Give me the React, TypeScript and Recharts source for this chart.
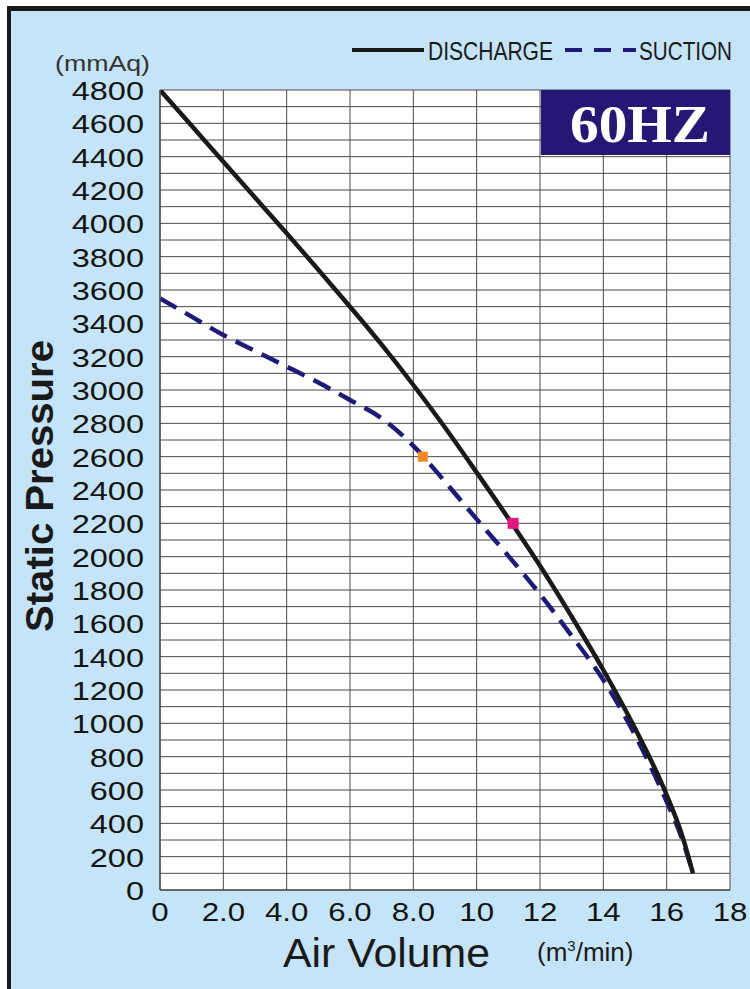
import React from "react";
import {
  ComposedChart,
  Line,
  Scatter,
  XAxis,
  YAxis,
  CartesianGrid,
} from "recharts";

// ---- data ----
const dischargeData = [
  { x: 0, y: 4800 },
  { x: 1, y: 4585 },
  { x: 2, y: 4370 },
  { x: 3, y: 4155 },
  { x: 4, y: 3940 },
  { x: 5, y: 3722 },
  { x: 6, y: 3500 },
  { x: 7, y: 3272 },
  { x: 8, y: 3030 },
  { x: 9, y: 2775 },
  { x: 10, y: 2505 },
  { x: 11, y: 2230 },
  { x: 12, y: 1945 },
  { x: 13, y: 1640 },
  { x: 14, y: 1320 },
  { x: 15, y: 970 },
  { x: 16, y: 570 },
  { x: 16.5, y: 320 },
  { x: 16.83, y: 100 },
];

const suctionData = [
  { x: 0, y: 3550 },
  { x: 1, y: 3440 },
  { x: 2, y: 3330 },
  { x: 3, y: 3235 },
  { x: 4, y: 3140 },
  { x: 5, y: 3045 },
  { x: 6, y: 2940 },
  { x: 7, y: 2830 },
  { x: 8, y: 2665 },
  { x: 9, y: 2450 },
  { x: 10, y: 2225 },
  { x: 11, y: 2005 },
  { x: 12, y: 1775 },
  { x: 13, y: 1525 },
  { x: 14, y: 1260 },
  { x: 15, y: 930 },
  { x: 16, y: 530 },
  { x: 16.5, y: 300 },
  { x: 16.83, y: 100 },
];

const orangeMarker = [{ x: 8.3, y: 2600 }];
const pinkMarker = [{ x: 11.15, y: 2200 }];

const xTicks = [0, 2, 4, 6, 8, 10, 12, 14, 16, 18];
const xTickLabels = ["0", "2.0", "4.0", "6.0", "8.0", "10", "12", "14", "16", "18"];

const yGridTicks = [
  0, 100, 200, 300, 400, 500, 600, 700, 800, 900, 1000, 1100, 1200, 1300, 1400,
  1500, 1600, 1700, 1800, 1900, 2000, 2100, 2200, 2300, 2400, 2500, 2600, 2700,
  2800, 2900, 3000, 3100, 3200, 3300, 3400, 3500, 3600, 3700, 3800, 3900, 4000,
  4100, 4200, 4300, 4400, 4500, 4600, 4700, 4800,
];
const yLabelTicks = [
  0, 200, 400, 600, 800, 1000, 1200, 1400, 1600, 1800, 2000, 2200, 2400, 2600,
  2800, 3000, 3200, 3400, 3600, 3800, 4000, 4200, 4400, 4600, 4800,
];

const FONT = "'Liberation Sans', Arial, Helvetica, sans-serif";

const YTick = (props: any) => {
  const { x, y, payload } = props;
  if (!yLabelTicks.includes(payload.value)) return <g />;
  return (
    <text
      x={0}
      y={0}
      transform={`translate(${x - 8},${y + 10}) scale(1.25,1)`}
      textAnchor="end"
      fontFamily={FONT}
      fontSize={26}
      fill="#141414"
    >
      {String(payload.value)}
    </text>
  );
};

const XTick = (props: any) => {
  const { x, y, payload } = props;
  const idx = xTicks.indexOf(payload.value);
  const label = idx >= 0 ? xTickLabels[idx] : String(payload.value);
  return (
    <text
      x={0}
      y={0}
      transform={`translate(${x},${y + 23}) scale(1.2,1)`}
      textAnchor="middle"
      fontFamily={FONT}
      fontSize={26}
      fill="#141414"
    >
      {label}
    </text>
  );
};

const Square = (color: string, size: number) => (props: any) => {
  const { cx, cy } = props;
  return (
    <rect x={cx - size / 2} y={cy - size / 2} width={size} height={size} fill={color} />
  );
};

export default function App() {
  return (
    <div
      style={{
        position: "absolute",
        left: 0,
        top: 0,
        width: 750,
        height: 989,
        background: "#ffffff",
        overflow: "hidden",
      }}
    >
      <div
        style={{
          position: "absolute",
          left: 7,
          top: 6,
          width: 750,
          height: 989,
          background: "#c5e4f7",
          borderTop: "5px solid #1a1a1a",
          borderLeft: "4px solid #1a1a1a",
          boxSizing: "border-box",
        }}
      />
      <div style={{ position: "absolute", left: 0, top: 0 }}>
        <ComposedChart
          width={750}
          height={989}
          margin={{ top: 90, right: 20, bottom: 59, left: 0 }}
        >
          <CartesianGrid
            stroke="#4a4a4a"
            strokeWidth={1}
            fill="#ffffff"
            fillOpacity={1}
          />
          <XAxis
            type="number"
            dataKey="x"
            domain={[0, 18]}
            ticks={xTicks}
            tick={<XTick />}
            tickLine={false}
            axisLine={{ stroke: "#555", strokeWidth: 1.5 }}
            height={40}
            interval={0}
            allowDataOverflow
          />
          <YAxis
            type="number"
            dataKey="y"
            domain={[0, 4800]}
            ticks={yGridTicks}
            tick={<YTick />}
            tickLine={false}
            axisLine={{ stroke: "#555", strokeWidth: 1.5 }}
            width={160}
            interval={0}
            allowDataOverflow
          />
          <Line
            data={suctionData}
            dataKey="y"
            type="monotone"
            stroke="#1f1a78"
            strokeWidth={4.5}
            strokeDasharray="19 10"
            dot={false}
            activeDot={false}
            isAnimationActive={false}
          />
          <Line
            data={dischargeData}
            dataKey="y"
            type="monotone"
            stroke="#1a1a1a"
            strokeWidth={4.5}
            dot={false}
            activeDot={false}
            isAnimationActive={false}
          />
          <Scatter
            data={orangeMarker}
            dataKey="y"
            shape={Square("#f08a1e", 10)}
            isAnimationActive={false}
          />
          <Scatter
            data={pinkMarker}
            dataKey="y"
            shape={Square("#e3187f", 11)}
            isAnimationActive={false}
          />
        </ComposedChart>
      </div>
      <svg
        width={750}
        height={989}
        style={{ position: "absolute", left: 0, top: 0, pointerEvents: "none" }}
      >
        {/* legend */}
        <line x1={352} y1={50} x2={424} y2={50} stroke="#1a1a1a" strokeWidth={4} />
        <text
          x={428}
          y={60}
          fontFamily={FONT}
          fontSize={25}
          fill="#1a1a1a"
          textLength={125}
          lengthAdjust="spacingAndGlyphs"
        >
          DISCHARGE
        </text>
        <line
          x1={565}
          y1={50}
          x2={636}
          y2={50}
          stroke="#1f1a78"
          strokeWidth={4}
          strokeDasharray="17 12"
        />
        <text
          x={639}
          y={60}
          fontFamily={FONT}
          fontSize={25}
          fill="#1a1a1a"
          textLength={93}
          lengthAdjust="spacingAndGlyphs"
        >
          SUCTION
        </text>
        {/* unit */}
        <text
          x={55}
          y={71}
          fontFamily={FONT}
          fontSize={22}
          fill="#333"
          textLength={95}
          lengthAdjust="spacingAndGlyphs"
        >
          (mmAq)
        </text>
        {/* 60HZ box */}
        <rect x={541} y={90} width={189} height={65} fill="#241874" />
        <text
          x={640}
          y={142}
          textAnchor="middle"
          fontFamily="'Liberation Serif', 'DejaVu Serif', serif"
          fontWeight={700}
          fontSize={52}
          fill="#ffffff"
          textLength={140}
          lengthAdjust="spacingAndGlyphs"
        >
          60HZ
        </text>
        {/* axis titles */}
        <text
          x={0}
          y={0}
          transform="translate(53,486) rotate(-90)"
          textAnchor="middle"
          fontFamily={FONT}
          fontWeight={700}
          fontSize={38}
          fill="#1a1a1a"
          textLength={292}
          lengthAdjust="spacingAndGlyphs"
        >
          Static Pressure
        </text>
        <text
          x={283}
          y={967}
          fontFamily={FONT}
          fontSize={40}
          fill="#1a1a1a"
          textLength={207}
          lengthAdjust="spacingAndGlyphs"
        >
          Air Volume
        </text>
        <text x={537} y={961} fontFamily={FONT} fontSize={26} fill="#1a1a1a">
          (m
          <tspan dy={-10} fontSize={15}>
            3
          </tspan>
          <tspan dy={10}>/min)</tspan>
        </text>
      </svg>
    </div>
  );
}
